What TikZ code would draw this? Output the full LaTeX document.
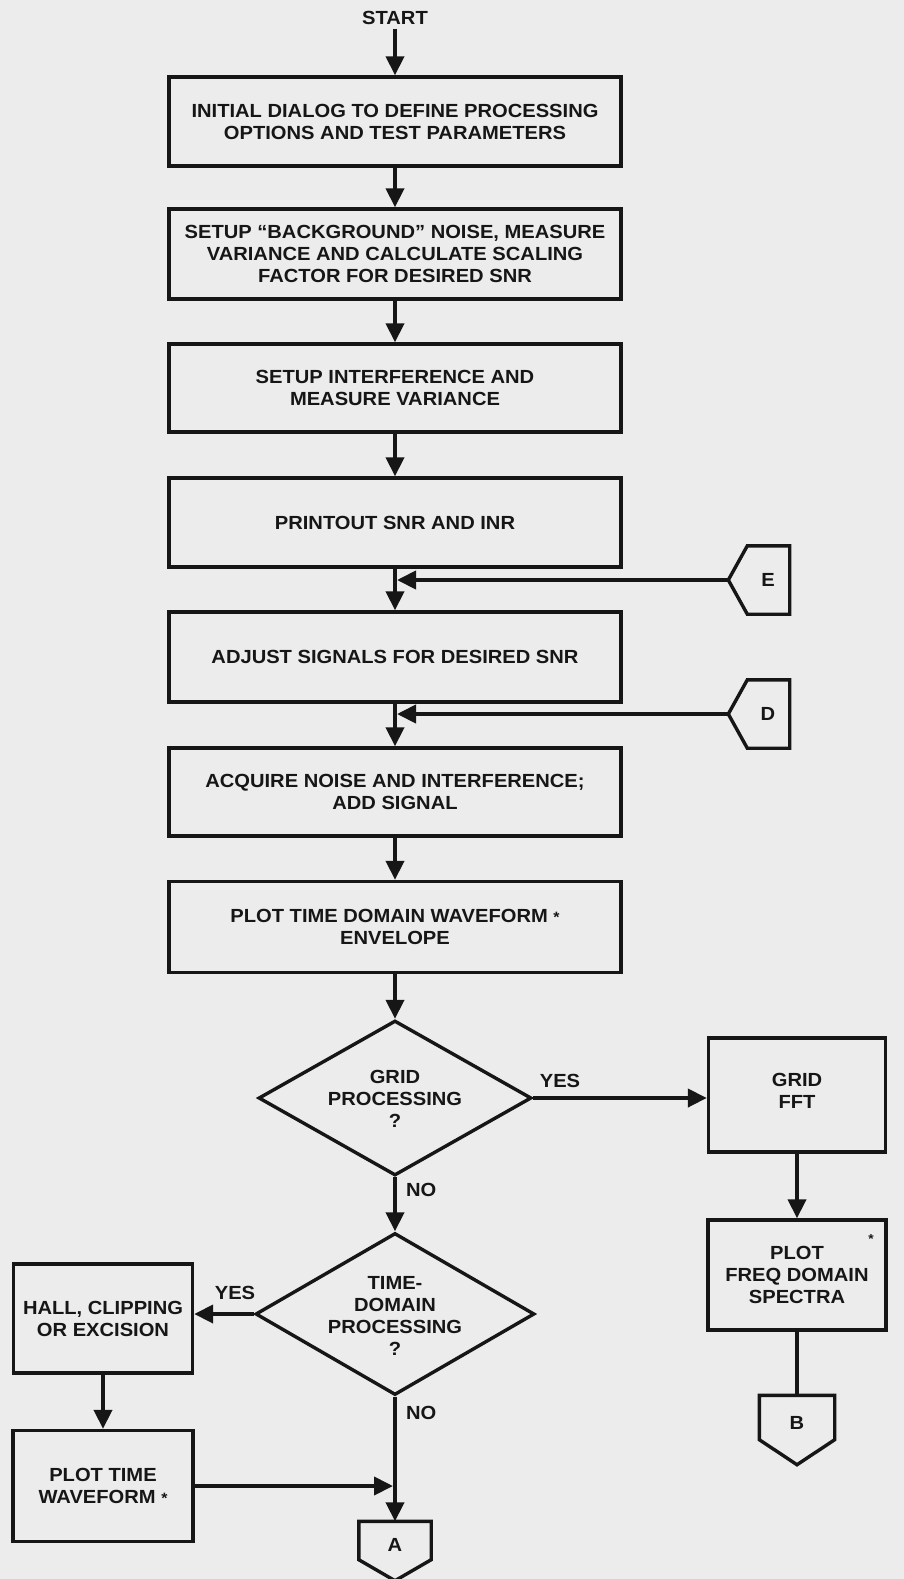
\documentclass[tikz,border=0pt]{standalone}
\usepackage{fontspec}
\setmainfont[FakeStretch=1.06]{Liberation Sans}
\usetikzlibrary{arrows.meta,shapes.geometric}
\definecolor{paper}{RGB}{236,236,236}
\definecolor{ink}{RGB}{22,22,22}
\begin{document}
\begin{tikzpicture}[x=1pt,y=-1pt,
  every node/.style={font=\fontsize{19}{22}\selectfont\bfseries, text=ink},
  box/.style={draw=ink, line width=3.4pt, rectangle, inner sep=0pt, align=center},
  mainbox/.style={box, minimum width=452pt},
  sidebox/.style={box},
  decision/.style={draw=ink, line width=3.4pt, diamond, inner sep=0pt},
  tag/.style={rectangle, draw=none, inner sep=0pt, outer sep=1.7pt},
  outline/.style={draw=ink, line width=3.4pt},
  lbl/.style={align=center, inner sep=0pt},
  flow/.style={draw=ink, line width=4pt, -{Triangle[length=19pt,width=18pt]}},
  plain/.style={draw=ink, line width=4pt},
]
\fill[paper] (0,0) rectangle (904,1579);
\useasboundingbox (0,0) rectangle (904,1579);

% main column
\node[lbl, outer sep=4pt] (start) at (395,18) {START};
\node[mainbox, minimum height=89pt] (b1) at (395,121.5)
  {INITIAL DIALOG TO DEFINE PROCESSING\\OPTIONS AND TEST PARAMETERS};
\node[mainbox, minimum height=90pt] (b2) at (395,254)
  {SETUP “BACKGROUND” NOISE, MEASURE\\VARIANCE AND CALCULATE SCALING\\FACTOR FOR DESIRED SNR};
\node[mainbox, minimum height=88pt] (b3) at (395,388)
  {SETUP INTERFERENCE AND\\MEASURE VARIANCE};
\node[mainbox, minimum height=89pt] (b4) at (395,522.5) {PRINTOUT SNR AND INR};
\node[mainbox, minimum height=90pt] (b5) at (395,657) {ADJUST SIGNALS FOR DESIRED SNR};
\node[mainbox, minimum height=88pt] (b6) at (395,792)
  {ACQUIRE NOISE AND INTERFERENCE;\\ADD SIGNAL};
\node[mainbox, minimum height=91pt] (b7) at (395,927)
  {PLOT TIME DOMAIN WAVEFORM {\fontsize{15}{15}\selectfont *}\\ENVELOPE};

% off-page connectors E and D (pointing left)
\node[tag, minimum width=58pt, minimum height=65pt] (E) at (759,580) {};
\draw[outline] (E.west) -- ([xshift=19pt]E.north west) -- (E.north east)
  -- (E.south east) -- ([xshift=19pt]E.south west) -- cycle;
\node[lbl, xshift=9pt] at (E) {E};
\node[tag, minimum width=58pt, minimum height=65pt] (D) at (759,714) {};
\draw[outline] (D.west) -- ([xshift=19pt]D.north west) -- (D.north east)
  -- (D.south east) -- ([xshift=19pt]D.south west) -- cycle;
\node[lbl, xshift=9pt] at (D) {D};
\coordinate (jE) at (397,580);
\coordinate (jD) at (397,714);

% decisions
\node[decision, minimum width=273pt, minimum height=155pt] (d1) at (395,1098) {};
\node[lbl, yshift=-1pt] at (d1) {GRID\\PROCESSING\\?};
\node[decision, minimum width=279pt, minimum height=162pt] (d2) at (395,1314) {};
\node[lbl, yshift=-2pt] at (d2) {TIME-\\DOMAIN\\PROCESSING\\?};

% grid branch
\node[sidebox, minimum width=177pt, minimum height=114pt] (fft) at (797,1095) {};
\node[lbl, yshift=4pt] at (fft) {GRID\\FFT};
\node[sidebox, minimum width=178pt, minimum height=110pt] (freq) at (797,1275) {};
\node[lbl] at (freq) {PLOT\\FREQ DOMAIN\\SPECTRA};
\node[font=\fontsize{13}{13}\selectfont\bfseries, inner sep=0pt] at (871,1239) {*};
\node[tag, minimum width=72pt, minimum height=66pt] (B) at (797,1430) {};
\draw[outline] (B.north west) -- (B.north east) -- ([yshift=25pt]B.south east)
  -- (B.south) -- ([yshift=25pt]B.south west) -- cycle;
\node[lbl, yshift=7pt] at (B) {B};

% time-domain branch
\node[sidebox, minimum width=179pt, minimum height=109pt] (hall) at (103,1318.5) {HALL, CLIPPING\\OR EXCISION};
\node[sidebox, minimum width=180pt, minimum height=111pt] (pt) at (103,1486)
  {PLOT TIME\\WAVEFORM {\fontsize{15}{15}\selectfont *}};
\node[tag, minimum width=69pt, minimum height=56pt] (A) at (395,1551) {};
\draw[outline] (A.north west) -- (A.north east) -- ([yshift=21pt]A.south east)
  -- (A.south) -- ([yshift=21pt]A.south west) -- cycle;
\node[lbl, yshift=6pt] at (A) {A};
\coordinate (jA) at (393,1486);

% branch labels
\node[lbl] at (560,1081) {YES};
\node[lbl, anchor=west] at (406,1190) {NO};
\node[lbl] at (235,1293) {YES};
\node[lbl, anchor=west] at (406,1413) {NO};

% connectors
\draw[flow] (start) -- (b1);
\draw[flow] (b1) -- (b2);
\draw[flow] (b2) -- (b3);
\draw[flow] (b3) -- (b4);
\draw[flow] (b4) -- (b5);
\draw[flow] (E.west) -- (jE);
\draw[flow] (b5) -- (b6);
\draw[flow] (D.west) -- (jD);
\draw[flow] (b6) -- (b7);
\draw[flow] (b7) -- (d1);
\draw[flow] (d1.east) -- (d1.east -| fft.west);
\draw[flow] (fft) -- (freq);
\draw[plain] (freq) -- (B);
\draw[flow] (d1) -- (d2);
\draw[flow] (d2.west) -- (d2.west -| hall.east);
\draw[flow] (hall) -- (pt);
\draw[flow] (pt.east) -- (jA);
\draw[flow] (d2) -- (A);
\end{tikzpicture}
\end{document}
